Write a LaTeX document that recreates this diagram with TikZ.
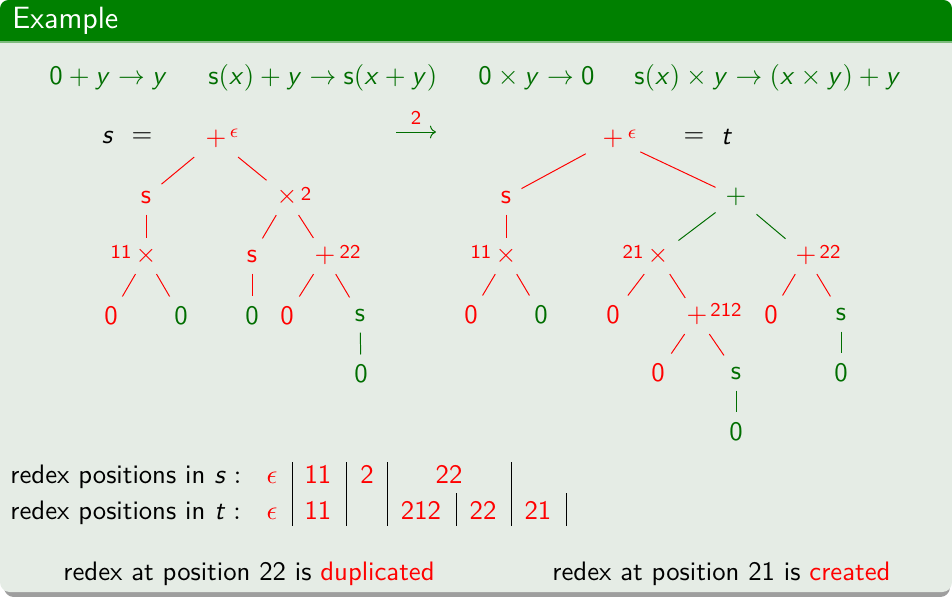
\documentclass[tikz,border=0pt]{standalone}
\usepackage{amsmath}
\usetikzlibrary{arrows.meta}
\DeclareMathAlphabet{\mathsfit}{OT1}{cmss}{m}{sl}
\newcommand\vv[1]{\mathsfit{#1}}
\newcommand\cc[1]{\mathsf{#1}}
\definecolor{blockgreen}{RGB}{0,128,0}
\definecolor{gr}{RGB}{0,110,0}
\definecolor{bodybg}{RGB}{229,236,229}
\definecolor{rd}{RGB}{255,0,0}
\tikzset{
  base font/.style={font={\fontsize{10.95}{13}\selectfont\sffamily}},
  small font/.style={font={\fontsize{8}{9.6}\selectfont\sffamily}},
  title font/.style={font={\fontsize{12.6}{15}\selectfont\sffamily}},
  tn/.style={base font, inner sep=0pt, minimum height=14.4pt},
  opn/.style={tn, minimum width=16.4pt},
  rootn/.style={tn, minimum width=22pt},
  sn/.style={tn, minimum width=12.3pt, minimum height=14pt},
  zn/.style={tn, minimum width=13.9pt, minimum height=15.6pt},
  supn/.style={small font, inner sep=0pt},
  txt/.style={base font, inner sep=0pt},
  R/.style={text=rd},
  G/.style={text=gr},
}
\begin{document}
\begin{tikzpicture}[x=0.41pt,y=-0.41pt]
\useasboundingbox (0,0) rectangle (952,597);
% block with shadow
\fill[black!38, rounded corners=4pt] (4,8) rectangle (950,597);
\fill[bodybg, rounded corners=4pt] (0,0) rectangle (952,592);
\begin{scope}
  \clip[rounded corners=3.5pt] (0,0) rectangle (952,592);
  \fill[blockgreen] (0,0) rectangle (952,41);
  \fill[blockgreen!45!bodybg] (0,41) rectangle (952,43);
\end{scope}
\node[title font, inner sep=0pt, text=white, anchor=base west] (title) at (12,28) {Example};

% rewrite rules
\begin{scope}[every node/.style={txt, G, anchor=base west}]
  \node (rule1) at (49,84) {$\cc{0}+\vv{y}\to\vv{y}$};
  \node (rule2) at (208,84) {$\cc{s}(\vv{x})+\vv{y}\to\cc{s}(\vv{x}+\vv{y})$};
  \node (rule3) at (478,84) {$\cc{0}\times\vv{y}\to\cc{0}$};
  \node (rule4) at (634,84) {$\cc{s}(\vv{x})\times\vv{y}\to(\vv{x}\times\vv{y})+\vv{y}$};
\end{scope}

% term s
\node[txt] (sname) at (108,138) {$\vv{s}$};
\node[txt] (seq) at (142,138) {$=$};
\node[rootn, R] (Lr) at (216,139) {$+$};
\node[supn, R] (Lre) at (234,133) {$\epsilon$};
\node[sn, R] (Ls) at (146,197) {s};
\node[opn, R] (Lm) at (287,197) {$\times$};
\node[supn, R] (Lml) at (306,194) {2};
\node[opn, R] (L11) at (146,256) {$\times$};
\node[supn, R] (L11l) at (121,252) {11};
\node[sn, R] (L12) at (252,256) {s};
\node[opn, R] (L22) at (325,256) {$+$};
\node[supn, R] (L22l) at (350,252) {22};
\node[zn, R] (L111) at (111,316) {0};
\node[zn, G] (L112) at (181,316) {0};
\node[zn, G] (L121) at (252,316) {0};
\node[zn, R] (L221) at (287,316) {0};
\node[sn, G] (L222) at (360,315) {s};
\node[zn, G] (L2221) at (361,374) {0};
\begin{scope}[rd]
  \draw (Lr) -- (Ls);
  \draw (Lr) -- (Lm);
  \draw (Ls) -- (L11);
  \draw (Lm) -- (L12);
  \draw (Lm) -- (L22);
  \draw (L11) -- (L111);
  \draw (L11) -- (L112);
  \draw (L12) -- (L121);
  \draw (L22) -- (L221);
  \draw (L22) -- (L222);
\end{scope}
\draw[gr] (L222) -- (L2221);

% rewrite step
\coordinate (stepA) at (396,132);
\coordinate (stepB) at (436,132);
\draw[gr, -{Computer Modern Rightarrow}] (stepA) -- (stepB);
\node[supn, R] (stepL) at (416,118) {2};

% term t
\node[rootn, R] (Rr) at (613,139) {$+$};
\node[supn, R] (Rre) at (632,134) {$\epsilon$};
\node[txt] (teq) at (694,138) {$=$};
\node[txt] (tname) at (727,137) {$\vv{t}$};
\node[sn, R] (Rs) at (506,197) {s};
\node[opn, G] (Rp) at (736,197) {$+$};
\node[opn, R] (R11) at (506,256) {$\times$};
\node[supn, R] (R11l) at (481,252) {11};
\node[opn, R] (R21) at (658,256) {$\times$};
\node[supn, R] (R21l) at (633,252) {21};
\node[opn, R] (R22) at (806,256) {$+$};
\node[supn, R] (R22l) at (830,252) {22};
\node[zn, R] (R111) at (471,315) {0};
\node[zn, G] (R112) at (541,315) {0};
\node[zn, R] (R211) at (613,315) {0};
\node[opn, R] (R212) at (697,316) {$+$};
\node[supn, R] (R212l) at (726,310) {212};
\node[zn, R] (R221) at (771,315) {0};
\node[sn, G] (R222) at (841,314) {s};
\node[zn, R] (R2121) at (658,373) {0};
\node[sn, G] (R2122) at (736,373) {s};
\node[zn, G] (R2221) at (841,373) {0};
\node[zn, G] (R21221) at (736,432) {0};
\begin{scope}[rd]
  \draw (Rr) -- (Rs);
  \draw (Rr) -- (Rp);
  \draw (Rs) -- (R11);
  \draw (R11) -- (R111);
  \draw (R11) -- (R112);
  \draw (R21) -- (R211);
  \draw (R21) -- (R212);
  \draw (R22) -- (R221);
  \draw (R22) -- (R222);
  \draw (R212) -- (R2121);
  \draw (R212) -- (R2122);
\end{scope}
\begin{scope}[gr]
  \draw (Rp) -- (R21);
  \draw (Rp) -- (R22);
  \draw (R222) -- (R2221);
  \draw (R2122) -- (R21221);
\end{scope}

% redex positions
\node[txt, anchor=base west] (rowS) at (10,483) {redex positions in $\vv{s}:$};
\node[txt, anchor=base west] (rowT) at (10,519) {redex positions in $\vv{t}:$};
\begin{scope}[every node/.style={txt, R, anchor=base}]
  \node (sEps) at (272,483) {$\epsilon$};
  \node (s11) at (318,483) {11};
  \node (s2) at (367,483) {2};
  \node (s22) at (449,483) {22};
  \node (tEps) at (272,519) {$\epsilon$};
  \node (t11) at (318,519) {11};
  \node (t212) at (421,519) {212};
  \node (t22) at (483,519) {22};
  \node (t21) at (538,519) {21};
\end{scope}
\draw (292,462) -- (292,526);
\draw (346,462) -- (346,526);
\draw (387,462) -- (387,526);
\draw (511,462) -- (511,526);
\draw (456,493) -- (456,526);
\draw (566,493) -- (566,526);

% conclusions
\node[txt, anchor=base west] (dupText) at (63,580) {redex at position 22 is \textcolor{rd}{duplicated}};
\node[txt, anchor=base west] (creText) at (552,580) {redex at position 21 is \textcolor{rd}{created}};
\end{tikzpicture}
\end{document}
